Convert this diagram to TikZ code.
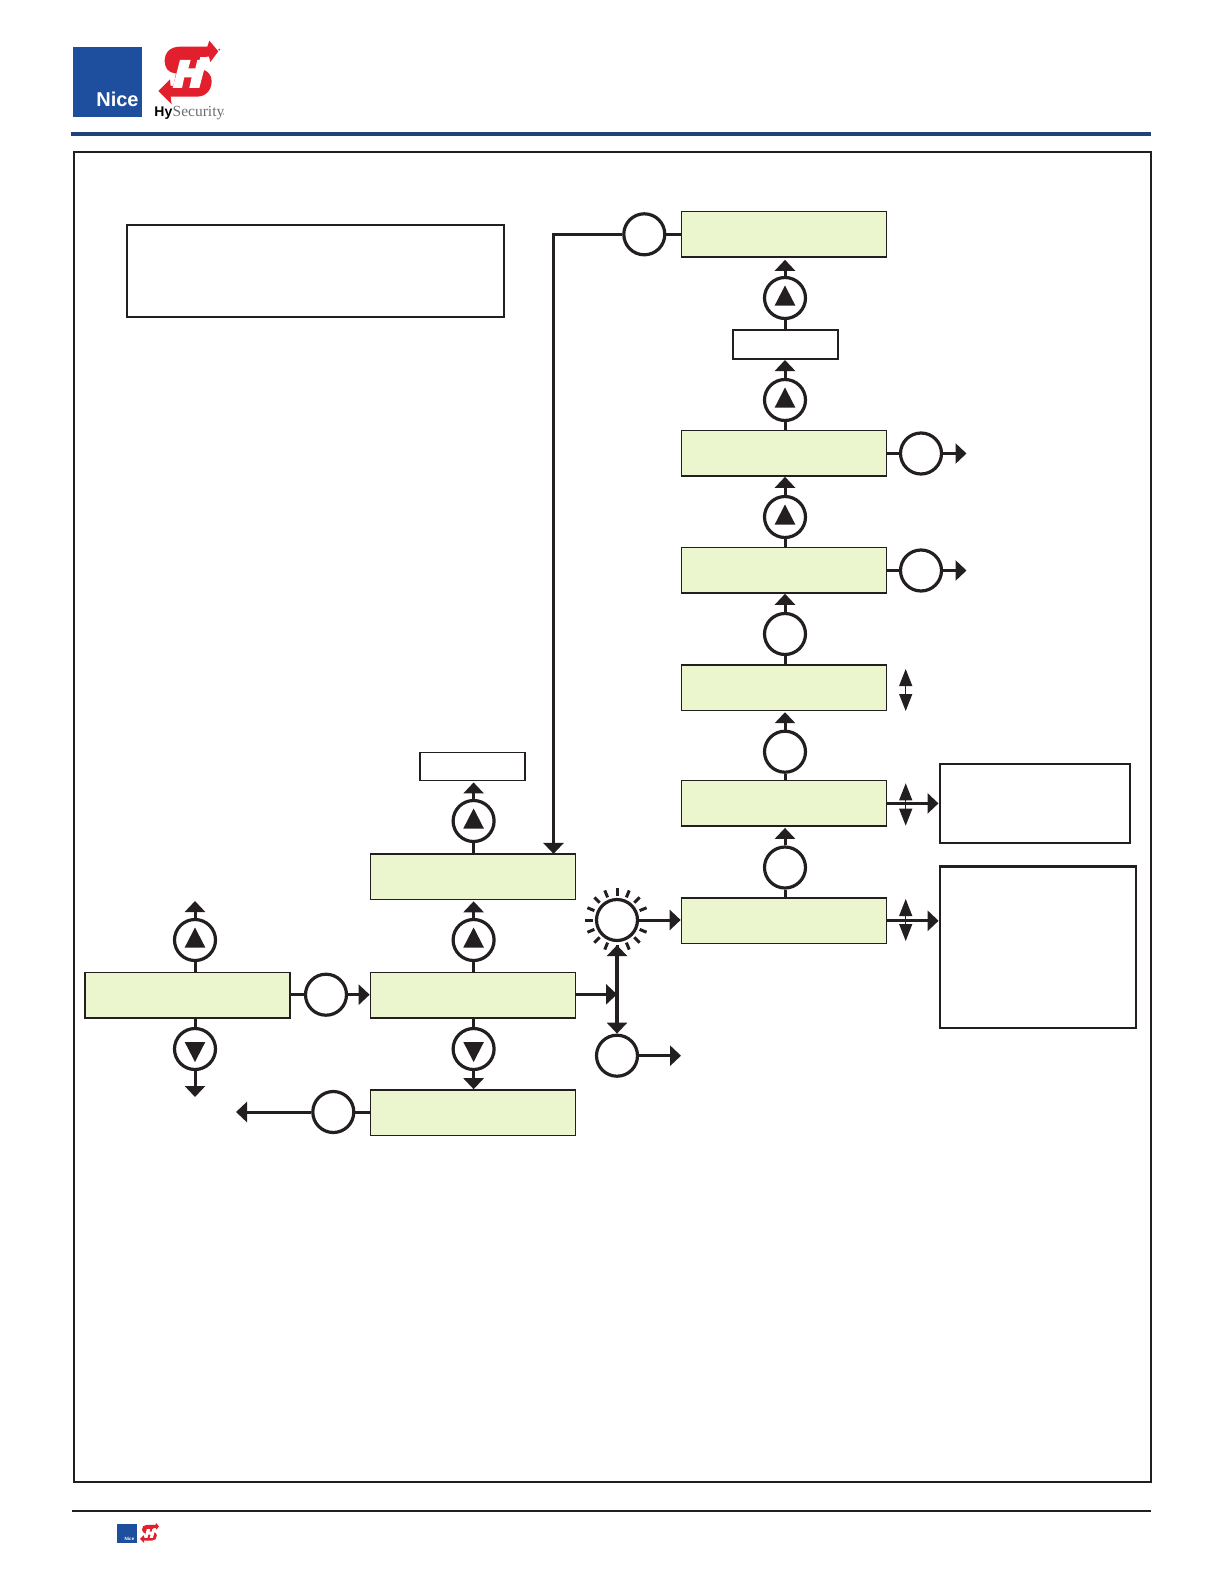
\documentclass[tikz,border=0pt]{standalone}
\usepackage{fontspec}
\setmainfont{Liberation Sans}
\newfontfamily\serifb{Liberation Serif}
\usetikzlibrary{arrows.meta}
\definecolor{ink}{HTML}{231F20}
\definecolor{lcdgreen}{HTML}{EBF5CE}
\definecolor{niceblue}{HTML}{1D4F9E}
\definecolor{rulenavy}{HTML}{1F4279}
\definecolor{logored}{HTML}{E21F2D}
\definecolor{logogray}{HTML}{6D6E71}
\tikzset{
  lcd/.style={draw=ink,fill=lcdgreen,line width=1.7pt,minimum width=205pt,minimum height=45.5pt,inner sep=0pt},
  plainbox/.style={draw=ink,fill=white,line width=1.6pt,inner sep=0pt},
  notebox/.style={draw=ink,fill=white,line width=2.8pt,inner sep=0pt},
  btn/.style={circle,draw=ink,fill=white,line width=3.2pt,minimum size=41pt,inner sep=0pt},
  link/.style={draw=ink,line width=3pt},
  go/.style={link,-{Triangle[length=11pt,width=20pt]}},
  gotwo/.style={draw=ink,line width=4pt,{Triangle[length=11pt,width=20pt]}-{Triangle[length=11pt,width=20pt]}},
  updown/.style={draw=ink,line width=1.2pt,{Triangle[length=17pt,width=13pt]}-{Triangle[length=17pt,width=13pt]}}
}
\newcommand{\triup}[1]{\fill[ink] ([shift={(-10.3,7.5)}]#1.center) -- ([shift={(10.3,7.5)}]#1.center) -- ([shift={(0,-12.5)}]#1.center) -- cycle;}
\newcommand{\tridown}[1]{\fill[ink] ([shift={(-10.3,-7)}]#1.center) -- ([shift={(10.3,-7)}]#1.center) -- ([shift={(0,13)}]#1.center) -- cycle;}
\newcommand{\redmark}{%
  \fill[logored] (178,14) -- (205,46) -- (181,78) -- (177,62) -- (150,63) -- (145,100) -- (155,100)
    .. controls (175,103) and (185,120) .. (185,135) .. controls (185,165) and (165,182) .. (140,182)
    -- (62,182) -- (65,205) -- (25,165) -- (60,130) -- (62,150) -- (70,150) -- (78,112) -- (75,112)
    .. controls (55,110) and (44,95) .. (44,75) .. controls (44,50) and (60,32) .. (90,32) -- (172,32) -- cycle;
  \fill[white] (90,72) -- (122,72) -- (115,97) -- (136,97) -- (142,72) -- (170,72) -- (148,156) -- (118,156)
    -- (125,124) -- (103,124) -- (96,156) -- (68,156) -- cycle;
}
\begin{document}
\begin{tikzpicture}[x=1pt,y=-1pt]
\fill[white] (0,0) rectangle (1224,1584);
\useasboundingbox (0,0) rectangle (1224,1584);

% header
\fill[niceblue] (73,47) rectangle (141.7,116.7);
\node[anchor=base,text=white,font=\fontsize{20}{20}\selectfont\bfseries,inner sep=0pt] (nicetext) at (117.5,107) {Nice};
\begin{scope}[shift={(150,36)},scale=0.3333]
  \redmark
  \fill[logored] (208,41) circle (3);
\end{scope}
\node[anchor=base west,inner sep=0pt,font=\fontsize{14}{14}\selectfont\bfseries,text=black] (hy) at (154.2,117) {Hy};
\node[anchor=base west,inner sep=0pt,font=\serifb\fontsize{15.5}{15.5}\selectfont,text=logogray] (sec) at (hy.base east) {Security};
\fill[logogray] (223.5,114) circle (0.7);
\fill[rulenavy] (71,132) rectangle (1151,136);

% frame
\draw[draw=ink,line width=2pt] (74,152) rectangle (1151,1481.5);

% footer
\draw[draw=ink,line width=2pt] (72,1510.7) -- (1151,1510.7);
\fill[niceblue] (117,1524) rectangle (137,1542.7);
\node[anchor=base,text=white,font=\fontsize{4.5}{4.5}\selectfont\bfseries,inner sep=0pt] (nicesmall) at (129.5,1540) {Nice};
\begin{scope}[shift={(137.4,1521.5)},scale=0.105]
  \redmark
\end{scope}

% boxes
\node[notebox,line width=2pt,minimum width=377pt,minimum height=92pt] (note) at (315.2,270.7) {};
\node[lcd] (u1) at (784,234.2) {};
\node[plainbox,minimum width=105pt,minimum height=29pt] (u2) at (785.5,344.7) {};
\node[lcd] (u3) at (784,453.2) {};
\node[lcd] (u4) at (784,570.2) {};
\node[lcd] (u5) at (784,687.6) {};
\node[lcd] (u6) at (784,803.3) {};
\node[lcd] (u7) at (784,920.8) {};
\node[notebox,minimum width=190pt,minimum height=79pt] (r1) at (1034.9,803.4) {};
\node[notebox,minimum width=196pt,minimum height=161.5pt] (r2) at (1038,947.2) {};
\node[plainbox,minimum width=105pt,minimum height=28.3pt] (m0) at (472.5,766.5) {};
\node[lcd] (m1) at (473,876.7) {};
\node[lcd] (m2) at (473,995.2) {};
\node[lcd] (m3) at (473,1112.8) {};
\node[lcd] (l1) at (187.4,995.2) {};

% buttons
\node[btn] (a1) at (785,298) {};
\node[btn] (a2) at (785,400) {};
\node[btn] (a3) at (785,517) {};
\node[btn] (a4) at (785,634) {};
\node[btn] (a5) at (785,751.7) {};
\node[btn] (a6) at (785,867.5) {};
\node[btn] (top) at (644.3,234.3) {};
\node[btn] (s3) at (921,453.5) {};
\node[btn] (s4) at (921,570.5) {};
\node[btn] (sun) at (617,920) {};
\node[btn] (low) at (617,1055.7) {};
\node[btn] (cl) at (326,994.7) {};
\node[btn] (cb) at (333.3,1112) {};
\node[btn] (b0) at (473.6,821) {};
\node[btn] (b1) at (473.6,940) {};
\node[btn] (b2) at (473.6,1049) {};
\node[btn] (d1) at (195,940) {};
\node[btn] (d2) at (195,1049) {};

\triup{a1}\triup{a2}\triup{a3}\triup{b0}\triup{b1}\triup{d1}
\tridown{b2}\tridown{d2}

% sun rays
\foreach \ang in {0,22.5,...,337.5}
  \draw[ink,line width=3pt] ([shift={(\ang:24.5)}]sun.center) -- ([shift={(\ang:32)}]sun.center);

% free ends
\coordinate (s3end) at (966.5,453.5);
\coordinate (s4end) at (966.5,570.5);
\coordinate (d1end) at (195,901);
\coordinate (d2end) at (195,1097);
\coordinate (cbend) at (236,1112);
\coordinate (lowend) at (681,1055.7);
\coordinate (junction) at (617,994.3);

% vertical chain right
\draw[go] (a1.north) -- ([yshift=-2]a1.north |- u1.south);
\draw[link] (a1.south) -- (a1.south |- u2.north);
\draw[go] (a2.north) -- (a2.north |- u2.south);
\draw[link] (a2.south) -- (a2.south |- u3.north);
\draw[go] (a3.north) -- (a3.north |- u3.south);
\draw[link] (a3.south) -- (a3.south |- u4.north);
\draw[go] (a4.north) -- (a4.north |- u4.south);
\draw[link] (a4.south) -- (a4.south |- u5.north);
\draw[go] (a5.north) -- ([yshift=-1]a5.north |- u5.south);
\draw[link] (a5.south) -- (a5.south |- u6.north);
\draw[go] (a6.north) -- ([yshift=-1]a6.north |- u6.south);
\draw[link] (a6.south) -- (a6.south |- u7.north);

% side buttons
\draw[link] (u3.east |- s3.west) -- (s3.west);
\draw[go] (s3.east) -- (s3end);
\draw[link] (u4.east |- s4.west) -- (s4.west);
\draw[go] (s4.east) -- (s4end);

% up/down markers
\coordinate (ud5a) at (905.7,669);
\coordinate (ud5b) at (905.7,711);
\coordinate (ud6a) at (905.7,783.3);
\coordinate (ud6b) at (905.7,825.7);
\coordinate (ud7a) at (905.7,899);
\coordinate (ud7b) at (905.7,941);
\draw[updown] (ud5a) -- (ud5b);
\draw[go] (u6.east |- r1.west) -- (r1.west);
\draw[updown] (ud6a) -- (ud6b);
\draw[go] (u7.east) -- (u7.east -| r2.west);
\draw[updown] (ud7a) -- (ud7b);

% top link
\draw[link] (top.east) -- (top.east -| u1.west);
\coordinate (dropin) at (553.5,853.9);
\draw[go] (top.west) -| (dropin);

% middle column
\draw[go] (b0.north) -- ([yshift=-1]b0.north |- m0.south);
\draw[link] (b0.south) -- (b0.south |- m1.north);
\draw[go] (b1.north) -- ([yshift=-1]b1.north |- m1.south);
\draw[link] (b1.south) -- (b1.south |- m2.north);
\draw[link] (m2.south -| b2.north) -- (b2.north);
\draw[go] (b2.south) -- (b2.south |- m3.north);

% left column
\draw[go] (d1.north) -- (d1end);
\draw[link] (d1.south) -- (d1.south |- l1.north);
\draw[link] (d2.north |- l1.south) -- (d2.north);
\draw[go] (d2.south) -- (d2end);
\draw[link] (l1.east |- cl.west) -- (cl.west);
\draw[go] (cl.east) -- (cl.east -| m2.west);
\draw[link] (cb.east) -- (cb.east -| m3.west);
\draw[go] (cb.west) -- (cbend);

% junction
\draw[go] (m2.east |- junction) -- (junction);
\draw[gotwo] ([yshift=-3]sun.south) -- (low.north);
\draw[go] (sun.east) -- (sun.east -| u7.west);
\draw[go] (low.east) -- (lowend);
\end{tikzpicture}
\end{document}
